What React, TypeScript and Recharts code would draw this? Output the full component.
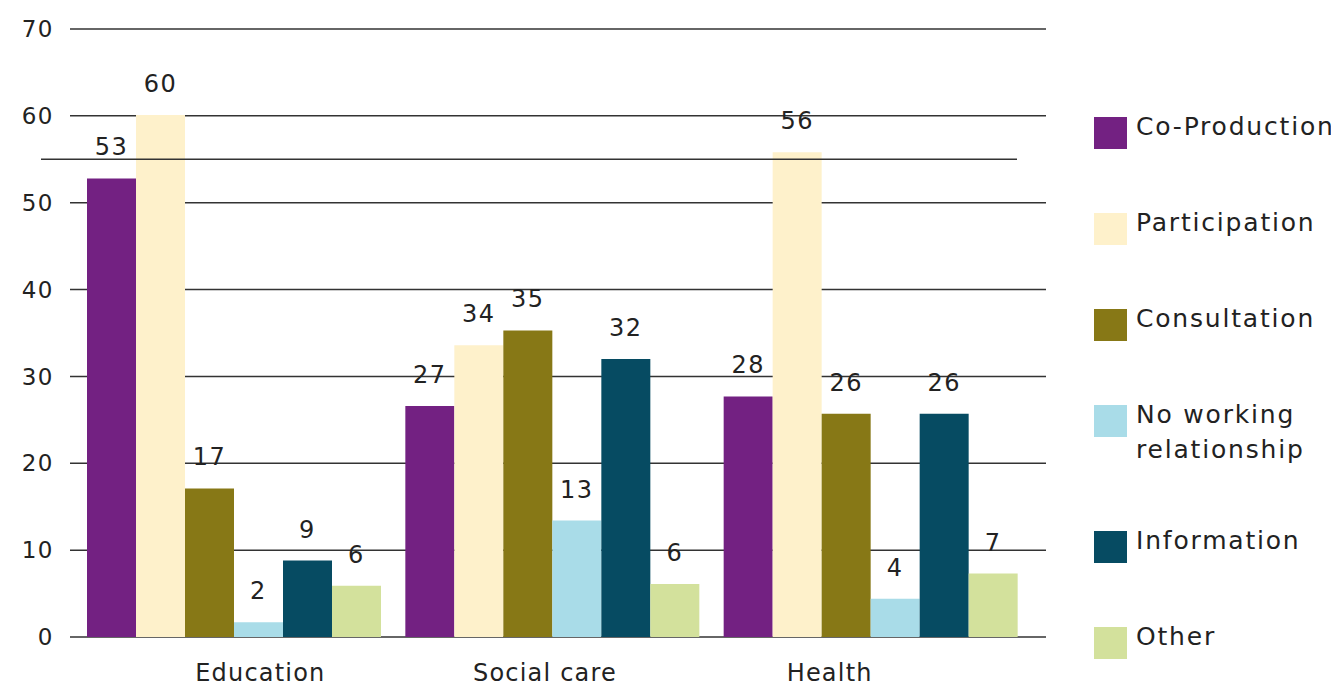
import React from "react";
import { Bar, BarChart, CartesianGrid, LabelList, ReferenceLine, XAxis, YAxis } from "recharts";

const categories = ["Education", "Social care", "Health"];
const coProduction = [52.8, 26.6, 27.7];
const participation = [60.1, 33.6, 55.8];
const consultation = [17.1, 35.3, 25.7];
const noWorking = [1.7, 13.4, 4.4];
const information = [8.8, 32.0, 25.7];
const other = [5.9, 6.1, 7.3];
const yTicks = [0, 10, 20, 30, 40, 50, 60, 70];

const series = [
  { key: "coProduction", name: "Co-Production", color: "#732182", values: coProduction },
  { key: "participation", name: "Participation", color: "#FEF1CB", values: participation },
  { key: "consultation", name: "Consultation", color: "#877816", values: consultation },
  { key: "noWorking", name: "No working relationship", color: "#A9DCE8", values: noWorking },
  { key: "information", name: "Information", color: "#064B62", values: information },
  { key: "other", name: "Other", color: "#D3E19C", values: other },
];

const data = categories.map((cat, i) => {
  const row: Record<string, string | number> = { cat };
  series.forEach((s) => (row[s.key] = s.values[i]));
  return row;
});

const font = "'DejaVu Sans', sans-serif";
const textColor = "#222";
const lineColor = "#333";

function ChartLegend() {
  return (
    <div
      style={{
        position: "absolute",
        left: 1086,
        top: 101,
        fontFamily: font,
        fontSize: 25,
        letterSpacing: 1.8,
        lineHeight: "35px",
        color: textColor,
      }}
    >
      {series.map((s) => (
        <div key={s.key} style={{ display: "flex", alignItems: "flex-start", marginBottom: 56 }}>
          <div style={{ width: 33, height: 32, background: s.color, marginTop: 8, marginRight: 9, flexShrink: 0 }} />
          <div style={{ width: 220, whiteSpace: "nowrap" }}>
            {s.key === "noWorking" ? (
              <>
                No working
                <br />
                relationship
              </>
            ) : (
              s.name
            )}
          </div>
        </div>
      ))}
    </div>
  );
}

export default function App() {
  return (
    <div style={{ position: "relative", width: 1331, height: 678 }}>
      <BarChart
        width={1331}
        height={678}
        data={data}
        margin={{ top: 21, right: 293, left: 0, bottom: 0 }}
        barCategoryGap={12}
        barGap={0}
      >
        <CartesianGrid horizontal vertical={false} stroke={lineColor} strokeWidth={1.5} strokeOpacity={1} />
        <XAxis dataKey="cat" hide height={0} padding={{ left: 5, right: 16 }} />
        <XAxis
          xAxisId="lbl"
          dataKey="cat"
          height={49}
          padding={{ left: 48, right: 74 }}
          tickLine={false}
          axisLine={false}
          tickMargin={21}
          tick={{ fontSize: 24, fill: textColor, fontFamily: font, letterSpacing: 1.2 }}
        />
        <YAxis
          width={62}
          domain={[0, 70]}
          ticks={yTicks}
          tickLine={false}
          axisLine={false}
          tickSize={0}
          tickMargin={16}
          tick={{ fontSize: 23, fill: textColor, fontFamily: font, letterSpacing: 1.5 }}
        />
        <ReferenceLine
          y={55}
          shape={(p: any) => (
            <line x1={p.x1 - 29} y1={p.y1} x2={p.x2 - 29} y2={p.y2} stroke={lineColor} strokeWidth={1.5} />
          )}
        />
        {series.map((s) => (
          <Bar key={s.key} dataKey={s.key} name={s.name} fill={s.color} isAnimationActive={false}>
            <LabelList
              dataKey={s.key}
              position="top"
              offset={23}
              formatter={(v: any) => Math.round(Number(v))}
              style={{ fontSize: 24, fill: textColor, fontFamily: font, letterSpacing: 1.5 }}
            />
          </Bar>
        ))}
      </BarChart>
      <ChartLegend />
    </div>
  );
}
